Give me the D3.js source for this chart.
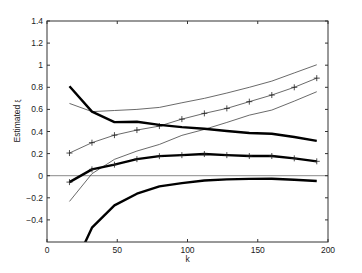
<!DOCTYPE html>
<html>
<head>
<meta charset="utf-8">
<script src="https://cdn.jsdelivr.net/npm/d3@7"></script>
<style>
  body { margin: 0; background: #fff; }
  svg { display: block; font-family: "Liberation Sans", Arial, sans-serif; }
</style>
</head>
<body>
<svg id="chart" width="362" height="273"></svg>
<script>
var kValues = [16, 32, 48, 64, 80, 96, 112, 128, 144, 160, 176, 192];

// thick lines
var thickUpper = [0.81, 0.58, 0.485, 0.488, 0.46, 0.44, 0.425, 0.405, 0.387, 0.38, 0.35, 0.315];
var thickMiddle = [-0.058, 0.057, 0.10, 0.15, 0.177, 0.186, 0.196, 0.186, 0.178, 0.178, 0.157, 0.13];
var thickLower = [-0.91, -0.47, -0.269, -0.163, -0.097, -0.067, -0.043, -0.033, -0.029, -0.027, -0.036, -0.048];

// thin lines
var thinUpper = [0.654, 0.58, 0.59, 0.60, 0.618, 0.66, 0.70, 0.748, 0.80, 0.856, 0.93, 1.004];
var thinMiddle = [0.205, 0.299, 0.367, 0.413, 0.449, 0.512, 0.564, 0.609, 0.67, 0.73, 0.80, 0.883];
var thinLower = [-0.233, 0.018, 0.148, 0.223, 0.283, 0.365, 0.419, 0.482, 0.548, 0.594, 0.675, 0.76];

var xTicks = [0, 50, 100, 150, 200];
var yTicks = [-0.4, -0.2, 0, 0.2, 0.4, 0.6, 0.8, 1, 1.2, 1.4];

var margin = { left: 47, right: 34, top: 21, bottom: 31 };
var width = 362, height = 273;

var svg = d3.select("#chart");

var x = d3.scaleLinear().domain([0, 200]).range([margin.left, width - margin.right]);
var y = d3.scaleLinear().domain([-0.6, 1.4]).range([height - margin.bottom, margin.top]);

svg.append("clipPath").attr("id", "plotclip")
  .append("rect")
  .attr("x", x(0)).attr("y", y(1.4))
  .attr("width", x(200) - x(0)).attr("height", y(-0.6) - y(1.4));

var plot = svg.append("g").attr("clip-path", "url(#plotclip)");

// zero line
plot.append("line")
  .attr("x1", x(0)).attr("x2", x(200))
  .attr("y1", y(0)).attr("y2", y(0))
  .attr("stroke", "#8a8a8a").attr("stroke-width", 1);

var line = d3.line()
  .x(function (d, i) { return x(kValues[i]); })
  .y(function (d) { return y(d); });

function drawSeries(data, w, color, markers) {
  plot.append("path")
    .datum(data)
    .attr("d", line)
    .attr("fill", "none")
    .attr("stroke", color)
    .attr("stroke-width", w)
    .attr("stroke-linejoin", "round");
  if (markers) {
    var s = 3;
    plot.selectAll(null)
      .data(data)
      .enter()
      .append("path")
      .attr("d", function (d, i) {
        var cx = x(kValues[i]), cy = y(d);
        return "M" + (cx - s) + "," + cy + "H" + (cx + s) + "M" + cx + "," + (cy - s) + "V" + (cy + s);
      })
      .attr("stroke", "#222")
      .attr("stroke-width", 0.8);
  }
}

drawSeries(thinUpper, 0.8, "#444", false);
drawSeries(thinMiddle, 0.8, "#444", true);
drawSeries(thinLower, 0.8, "#444", false);
drawSeries(thickUpper, 2.4, "#000", false);
drawSeries(thickMiddle, 2.4, "#000", true);
drawSeries(thickLower, 2.4, "#000", false);

// box axes, ticks inside
var axes = svg.append("g").attr("font-size", "8.5px").attr("fill", "#222");

axes.append("rect")
  .attr("x", x(0)).attr("y", y(1.4))
  .attr("width", x(200) - x(0)).attr("height", y(-0.6) - y(1.4))
  .attr("fill", "none").attr("stroke", "#333").attr("stroke-width", 1);

var tl = 3;
xTicks.forEach(function (t) {
  axes.append("line").attr("x1", x(t)).attr("x2", x(t)).attr("y1", y(-0.6)).attr("y2", y(-0.6) - tl).attr("stroke", "#333");
  axes.append("line").attr("x1", x(t)).attr("x2", x(t)).attr("y1", y(1.4)).attr("y2", y(1.4) + tl).attr("stroke", "#333");
  axes.append("text").attr("x", x(t)).attr("y", y(-0.6) + 11).attr("text-anchor", "middle").text(t);
});

yTicks.forEach(function (t) {
  axes.append("line").attr("x1", x(0)).attr("x2", x(0) + tl).attr("y1", y(t)).attr("y2", y(t)).attr("stroke", "#333");
  axes.append("line").attr("x1", x(200)).attr("x2", x(200) - tl).attr("y1", y(t)).attr("y2", y(t)).attr("stroke", "#333");
  axes.append("text").attr("x", x(0) - 4).attr("y", y(t) + 3).attr("text-anchor", "end")
    .text(t === 0 ? "0" : d3.format("")(t).replace("-", "\u2212"));
});

axes.append("text")
  .attr("x", (x(0) + x(200)) / 2).attr("y", height - 11)
  .attr("text-anchor", "middle").text("k");

var ylab = axes.append("text")
  .attr("transform", "translate(20," + 121 + ") rotate(-90)")
  .attr("text-anchor", "middle");
ylab.append("tspan").text("Estimated ");
ylab.append("tspan").attr("font-size", "6.5px").text("\u03be");
</script>
</body>
</html>
